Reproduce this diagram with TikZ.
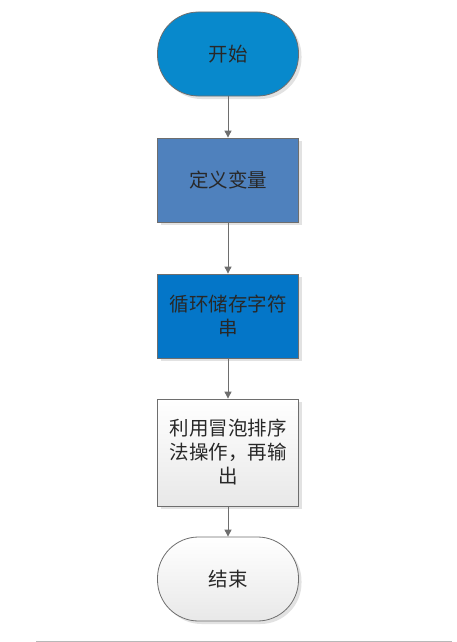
\documentclass[tikz,border=0pt]{standalone}
\usepackage{fontspec}
\usepackage{tikz}
\usetikzlibrary{arrows.meta,shadows}
\newfontfamily\cjkfont{Noto Sans CJK SC}
\definecolor{startblue}{RGB}{8,137,204}
\definecolor{varblue}{RGB}{79,129,189}
\definecolor{loopblue}{RGB}{4,118,200}
\definecolor{edgegray}{RGB}{110,110,110}
\definecolor{txtgray}{RGB}{40,40,40}
\begin{document}
\begin{tikzpicture}[x=1pt,y=-1pt,font=\cjkfont\fontsize{19.5}{24}\selectfont,
box/.style={draw=edgegray,line width=.8pt,align=center,text=txtgray,minimum width=141pt,minimum height=84pt,inner sep=2pt,
  drop shadow={shadow xshift=3pt,shadow yshift=-3pt,fill=black!25,opacity=.45}},
term/.style={box,rounded corners=41pt},
light/.style={top color=white,bottom color=black!9},
arr/.style={-{Triangle[length=7pt,width=7pt]},line width=.9pt,draw=edgegray}]

\useasboundingbox(0,0)rectangle(457,642);
\node[term,fill=startblue](start)at(228,54){开始};
\node[box,fill=varblue](vars)at(228,180){定义变量};
\node[box,fill=loopblue](store)at(228,316){循环储存字符\\串};
\node[box,light,minimum height=107pt](sort)at(228,452.5){利用冒泡排序\\法操作，再输\\出};
\node[term,light](stop)at(228,579){结束};
\draw[arr](start)--(vars);
\draw[arr](vars)--(store);
\draw[arr](store)--(sort);
\draw[arr](sort)--(stop);
\draw[black!28,line width=1pt](36,641)--(452,641);
\end{tikzpicture}
\end{document}
